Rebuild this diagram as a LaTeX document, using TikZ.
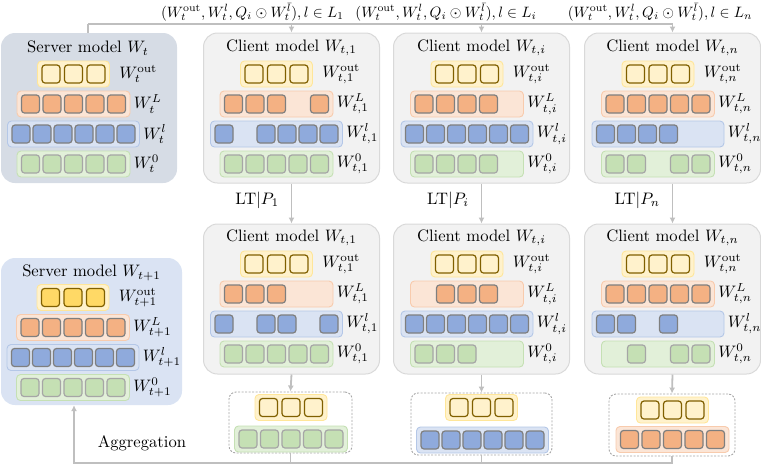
\documentclass[tikz,border=0pt]{standalone}
\usetikzlibrary{arrows.meta}
\definecolor{srvA}{HTML}{D6DCE5}
\definecolor{srvB}{HTML}{DAE3F3}
\definecolor{cli}{HTML}{F2F2F2}
\definecolor{cliB}{HTML}{D9D9D9}
\definecolor{yBox}{HTML}{FFF2CC}
\definecolor{yBor}{HTML}{FFE699}
\definecolor{yCellB}{HTML}{806000}
\definecolor{yDark}{HTML}{FFD966}
\definecolor{oBox}{HTML}{FBE5D6}
\definecolor{oBor}{HTML}{F8CBAD}
\definecolor{oCell}{HTML}{F4B183}
\definecolor{bBox}{HTML}{DAE3F3}
\definecolor{bBor}{HTML}{B4C7E7}
\definecolor{bCell}{HTML}{8FAADC}
\definecolor{gBox}{HTML}{E2F0D9}
\definecolor{gBor}{HTML}{C5E0B4}
\definecolor{gCell}{HTML}{C5E0B4}
\definecolor{cellB}{HTML}{7F7F7F}
\definecolor{cellG}{HTML}{A6A6A6}
\definecolor{connc}{HTML}{BFBFBF}
\definecolor{dashc}{HTML}{A6A6A6}
\newcommand\lay[9]{%
  \pgfmathsetmacro\lw{18+(#6-1)*#7+9}%
  \node[#4, minimum width=\lw pt] (#1) at (#2,#3) {};%
  \foreach \k in {#8}{%
    \pgfmathsetmacro\xx{#2-(#6-1)*#7/2+(\k-1)*#7}%
    \node[#5] (#1-\k) at (\xx,#3) {};%
  }%
  \if\relax\detokenize{#9}\relax\else
    \pgfmathsetmacro\gap{(#6==3)?9:3}%
    \node[lab] (#1-lab) at ([xshift=\gap pt]#1.east) {#9};%
  \fi
}
\begin{document}
\begin{tikzpicture}[x=1pt,y=-1pt,
  big/.style={scale=1.66, transform shape},
  bigbox/.style={rounded corners=14pt, inner sep=0, minimum width=176pt, minimum height=150pt},
  srvbox/.style={bigbox, fill=srvA},
  srvboxb/.style={bigbox, fill=srvB, minimum width=181pt, minimum height=147pt},
  clibox/.style={bigbox, fill=cli, draw=cliB, line width=1pt},
  laybox/.style={rounded corners=4pt, inner sep=0, minimum height=26pt, line width=0.9pt},
  yb/.style={laybox, fill=yBox, draw=yBor},
  ob/.style={laybox, fill=oBox, draw=oBor},
  bb/.style={laybox, fill=bBox, draw=bBor},
  gb/.style={laybox, fill=gBox, draw=gBor},
  cell/.style={rounded corners=3pt, inner sep=0, minimum width=18pt, minimum height=18pt, line width=1.2pt},
  yc/.style={cell, fill=yBox, draw=yCellB},
  yd/.style={cell, fill=yDark, draw=yCellB},
  oc/.style={cell, fill=oCell, draw=cellB},
  bc/.style={cell, fill=bCell, draw=cellB},
  gc/.style={cell, fill=gCell, draw=cellG},
  lab/.style={inner sep=0, anchor=west, big},
  ttl/.style={inner sep=0, big},
  toplab/.style={inner sep=0, scale=1.5, transform shape},
  conn/.style={draw=connc, line width=1.8pt},
  arr/.style={conn, -{Latex[length=6pt,width=6pt]}},
  midl/.style={pos=0.41, anchor=east, xshift=-11pt, inner sep=0, big},
  dbox/.style={draw=dashc, dash pattern=on 2pt off 1.5pt, rounded corners=7pt, fill=white, line width=0.9pt, inner sep=0}]
\useasboundingbox (0,0) rectangle (761,467);
% ---------- big boxes ----------
\node[srvbox] (s0) at (89,108) {};
\node[clibox] (c1) at (291.5,108) {};
\node[clibox] (ci) at (481.5,108) {};
\node[clibox] (cn) at (672.5,108) {};
\node[srvboxb] (s1) at (91.5,331.5) {};
\node[clibox] (c1b) at (291.5,299) {};
\node[clibox] (cib) at (481.5,299) {};
\node[clibox] (cnb) at (672.5,299) {};
% ---------- titles ----------
\node[ttl] (s0t) at (88,48) {Server model $W_t$};
\node[ttl] (c1t) at (291.5,48) {Client model $W_{t,1}$};
\node[ttl] (cit) at (481.5,48) {Client model $W_{t,i}$};
\node[ttl] (cnt) at (672.5,48) {Client model $W_{t,n}$};
\node[ttl] (s1t) at (91.5,273) {Server model $W_{t+1}$};
\node[ttl] (c1bt) at (291.5,238) {Client model $W_{t,1}$};
\node[ttl] (cibt) at (481.5,238) {Client model $W_{t,i}$};
\node[ttl] (cnbt) at (672.5,238) {Client model $W_{t,n}$};
% ---------- server t ----------
\lay{s0o}{73.5}{74}{yb}{yc}{3}{22.5}{1,2,3}{$W_t^{\mathrm{out}}$}
\lay{s0L}{73.5}{104}{ob}{oc}{5}{21.5}{1,...,5}{$W_t^L$}
\lay{s0l}{73.5}{134}{bb}{bc}{6}{21}{1,...,6}{$W_t^l$}
\lay{s0z}{73.5}{164}{gb}{gc}{5}{21.5}{1,...,5}{$W_t^0$}
% ---------- client 1 ----------
\lay{c1o}{276.5}{74}{yb}{yc}{3}{22.5}{1,2,3}{$W_{t,1}^{\mathrm{out}}$}
\lay{c1L}{276.5}{104}{ob}{oc}{5}{21.5}{1,2,3,5}{$W_{t,1}^L$}
\lay{c1l}{276.5}{134}{bb}{bc}{6}{21}{1,3,4,5,6}{$W_{t,1}^l$}
\lay{c1z}{276.5}{164}{gb}{gc}{5}{21.5}{1,...,5}{$W_{t,1}^0$}
% ---------- client i ----------
\lay{cio}{467}{74}{yb}{yc}{3}{22.5}{1,2,3}{$W_{t,i}^{\mathrm{out}}$}
\lay{ciL}{467}{104}{ob}{oc}{5}{21.5}{1,2,3,4}{$W_{t,i}^L$}
\lay{cil}{467}{134}{bb}{bc}{6}{21}{1,...,6}{$W_{t,i}^l$}
\lay{ciz}{467}{164}{gb}{gc}{5}{21.5}{1,2,3,4}{$W_{t,i}^0$}
% ---------- client n ----------
\lay{cno}{658}{74}{yb}{yc}{3}{22.5}{1,2,3}{$W_{t,n}^{\mathrm{out}}$}
\lay{cnL}{658}{104}{ob}{oc}{5}{21.5}{1,...,5}{$W_{t,n}^L$}
\lay{cnl}{658}{134}{bb}{bc}{6}{21}{1,2,3,4}{$W_{t,n}^l$}
\lay{cnz}{658}{164}{gb}{gc}{5}{21.5}{1,2,4,5}{$W_{t,n}^0$}
% ---------- server t+1 ----------
\lay{s1o}{73}{297.5}{yb}{yd}{3}{22.5}{1,2,3}{$W_{t+1}^{\mathrm{out}}$}
\lay{s1L}{73}{327.5}{ob}{oc}{5}{21.5}{1,...,5}{$W_{t+1}^L$}
\lay{s1l}{73}{357.5}{bb}{bc}{6}{21}{1,...,6}{$W_{t+1}^l$}
\lay{s1z}{73}{387.5}{gb}{gc}{5}{21.5}{1,...,5}{$W_{t+1}^0$}
% ---------- client 1 (after LT) ----------
\lay{c1bo}{276.5}{264}{yb}{yc}{3}{22.5}{1,2,3}{$W_{t,1}^{\mathrm{out}}$}
\lay{c1bL}{276.5}{294}{ob}{oc}{5}{21.5}{1,2,3}{$W_{t,1}^L$}
\lay{c1bl}{276.5}{324}{bb}{bc}{6}{21}{1,3,4,6}{$W_{t,1}^l$}
\lay{c1bz}{276.5}{354}{gb}{gc}{5}{21.5}{1,...,5}{$W_{t,1}^0$}
% ---------- client i (after LT) ----------
\lay{cibo}{467}{264}{yb}{yc}{3}{22.5}{1,2,3}{$W_{t,i}^{\mathrm{out}}$}
\lay{cibL}{467}{294}{ob}{oc}{5}{21.5}{2,3,4}{$W_{t,i}^L$}
\lay{cibl}{467}{324}{bb}{bc}{6}{21}{1,...,6}{$W_{t,i}^l$}
\lay{cibz}{467}{354}{gb}{gc}{5}{21.5}{1,2,3}{$W_{t,i}^0$}
% ---------- client n (after LT) ----------
\lay{cnbo}{658}{264}{yb}{yc}{3}{22.5}{1,2,3}{$W_{t,n}^{\mathrm{out}}$}
\lay{cnbL}{658}{294}{ob}{oc}{5}{21.5}{1,...,5}{$W_{t,n}^L$}
\lay{cnbl}{658}{324}{bb}{bc}{6}{21}{1,2,4}{$W_{t,n}^l$}
\lay{cnbz}{658}{354}{gb}{gc}{5}{21.5}{2,4,5}{$W_{t,n}^0$}
% ---------- uploaded parts ----------
\node[dbox, minimum width=123pt, minimum height=61pt] (d1) at (290.5,422.5) {};
\lay{d1o}{291}{407.5}{yb}{yc}{3}{22.5}{1,2,3}{}
\lay{d1z}{291}{439}{gb}{gc}{5}{21.5}{1,...,5}{}
\node[dbox, minimum width=141pt, minimum height=62pt] (d2) at (481.5,424) {};
\lay{d2o}{481.5}{407.5}{yb}{yc}{3}{22.5}{1,2,3}{}
\lay{d2l}{482.5}{440}{bb}{bc}{6}{21}{1,...,6}{}
\node[dbox, minimum width=126pt, minimum height=62pt] (d3) at (672,425) {};
\lay{d3o}{672.5}{410}{yb}{yc}{3}{22.5}{1,2,3}{}
\lay{d3L}{672.5}{439.5}{ob}{oc}{5}{21.5}{1,...,5}{}
% ---------- top distribution ----------
\coordinate (tb) at (88,24);
\draw[conn] (tb |- s0.north) -- (tb);
\draw[arr] (tb) -| (c1.north);
\draw[arr] (tb) -| (ci.north);
\draw[arr] (tb) -| (cn.north);
\node[toplab] (t1) at (252.5,12) {$(W_t^{\mathrm{out}}, W_t^l, Q_i \odot W_t^{\bar{l}}), l \in L_1$};
\node[toplab] (t2) at (446,12) {$(W_t^{\mathrm{out}}, W_t^l, Q_i \odot W_t^{\bar{l}}), l \in L_i$};
\node[toplab] (t3) at (660,12) {$(W_t^{\mathrm{out}}, W_t^l, Q_i \odot W_t^{\bar{l}}), l \in L_n$};
% ---------- LT ----------
\draw[arr] (c1.south) -- node[midl] (lt1) {LT$|P_1$} (c1b.north);
\draw[arr] (ci.south) -- node[midl] (lti) {LT$|P_i$} (cib.north);
\draw[arr] (cn.south) -- node[midl] (ltn) {LT$|P_n$} (cnb.north);
% ---------- to uploads ----------
\draw[arr] (c1b.south) -- (d1.north);
\draw[arr] (cib.south) -- (d2.north);
\draw[arr] (cnb.south) -- (d3.north);
% ---------- aggregation ----------
\coordinate (ag) at (74,463);
\draw[conn] (d3.south) |- (ag);
\draw[conn] (d2.south) |- (ag);
\draw[arr] (d1.south) |- (ag) -- (ag |- s1.south);
\node[ttl] (agg) at (142,443) {Aggregation};
\end{tikzpicture}
\end{document}
